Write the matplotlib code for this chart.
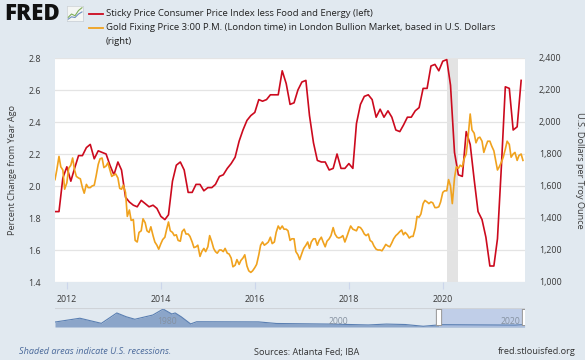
import matplotlib
matplotlib.use("Agg")
import matplotlib.pyplot as plt
import matplotlib.dates as mdates
from matplotlib.ticker import FuncFormatter
import pandas as pd

plt.rcParams['font.family'] = ['Open Sans', 'DejaVu Sans']

# ---- data ----
sticky_start = '2011-10-01'
sticky_cpi = [
    1.84, 1.84, 2.05, 2.12, 2.03, 2.11, 2.19, 2.19, 2.24, 2.26, 2.17, 2.22,
    2.21, 2.20, 2.13, 2.07, 2.15, 2.10, 1.93, 1.90, 1.88, 1.87, 1.91, 1.89,
    1.87, 1.88, 1.86, 1.81, 1.79, 1.82, 2.03, 2.13, 2.15, 2.10, 1.96, 1.96,
    2.01, 2.01, 1.97, 1.99, 1.99, 2.01, 2.06, 2.07, 2.11, 2.14, 2.18, 2.28,
    2.35, 2.41, 2.44, 2.46, 2.54, 2.53, 2.54, 2.57, 2.57, 2.57, 2.72, 2.64,
    2.51, 2.52, 2.60, 2.65, 2.66, 2.44, 2.27, 2.16, 2.15, 2.15, 2.10, 2.11,
    2.20, 2.11, 2.11, 2.14, 2.11, 2.39, 2.51, 2.56, 2.57, 2.54, 2.43, 2.48,
    2.43, 2.47, 2.43, 2.35, 2.34, 2.38, 2.43, 2.43, 2.47, 2.49, 2.61, 2.61,
    2.75, 2.76, 2.72, 2.78, 2.79, 2.63, 2.21, 2.07, 2.06, 2.34, 2.26, 2.04,
    1.84, 1.79, 1.68, 1.50, 1.50, 1.67, 2.13, 2.62, 2.61, 2.35, 2.37, 2.66,
]

# gold fixing price, two readings per month (1st / 15th)
gold_start = '2011-10-01'
gold = [
    1640, 1700, 1785, 1720, 1700, 1580,
    1620, 1710, 1730, 1775, 1700, 1660, 1650, 1645, 1590, 1555, 1610, 1590,
    1590, 1600, 1605, 1660, 1735, 1770, 1775, 1715, 1725, 1745, 1700, 1660,
    1670, 1675, 1650, 1585, 1580, 1605, 1560, 1410, 1450, 1385, 1390, 1260,
    1250, 1310, 1320, 1395, 1370, 1320, 1310, 1345, 1290, 1250, 1230, 1205,
    1240, 1265, 1280, 1330, 1375, 1320, 1310, 1290, 1295, 1260, 1255, 1315,
    1330, 1300, 1300, 1285, 1250, 1215, 1220, 1230, 1160, 1190, 1210, 1190,
    1220, 1290, 1250, 1210, 1190, 1180, 1200, 1200, 1190, 1210, 1180, 1175,
    1150, 1095, 1105, 1140, 1110, 1135, 1150, 1170, 1100, 1070, 1060, 1070,
    1090, 1110, 1170, 1230, 1250, 1230, 1240, 1250, 1280, 1240, 1250, 1310,
    1350, 1330, 1350, 1330, 1330, 1320, 1260, 1270, 1270, 1190, 1170, 1140,
    1180, 1210, 1230, 1250, 1210, 1250, 1270, 1270, 1230, 1260, 1280, 1250,
    1220, 1255, 1270, 1290, 1340, 1300, 1280, 1275, 1280, 1290, 1250, 1280,
    1320, 1350, 1330, 1325, 1320, 1345, 1340, 1325, 1300, 1290, 1300, 1260,
    1250, 1225, 1205, 1200, 1200, 1195, 1215, 1235, 1225, 1220, 1245, 1270,
    1290, 1300, 1315, 1325, 1295, 1310, 1295, 1275, 1285, 1285, 1335, 1410,
    1405, 1425, 1490, 1510, 1500, 1490, 1500, 1495, 1465, 1465, 1470, 1500,
    1560, 1570, 1570, 1640, 1600, 1490, 1650, 1720, 1710, 1730, 1720, 1770,
    1800, 1900, 2050, 1950, 1930, 1870, 1900, 1905, 1880, 1810, 1850, 1880,
    1880, 1850, 1820, 1760, 1700, 1720, 1750, 1780, 1830, 1880, 1860, 1780,
    1800, 1810, 1760, 1790, 1800, 1760,
]

recession = ('2020-02-01', '2020-04-30')
x_range = ('2011-10-01', '2021-10-01')

left_ticks = [1.4, 1.6, 1.8, 2.0, 2.2, 2.4, 2.6, 2.8]
right_ticks = [1000, 1200, 1400, 1600, 1800, 2000, 2200, 2400]
year_ticks = [2012, 2014, 2016, 2018, 2020]

# navigator (long history overview)
nav_years = [1967.0, 1969.9, 1972.4, 1974.2, 1975.3, 1976.3, 1978.4, 1979.6,
             1980.6, 1981.0, 1981.7, 1982.8, 1983.5, 1990.7, 1992.8, 1999.2,
             2003.5, 2005.6, 2007.8, 2009.9, 2012.0, 2020.6, 2021.7]
nav_vals = [3.4, 6.0, 2.5, 9.6, 7.0, 5.3, 8.2, 12.3,
            8.9, 9.6, 7.0, 2.1, 3.6, 3.5, 2.4, 2.0,
            1.4, 2.0, 1.7, 0.5, 1.6, 1.3, 1.7]
nav_labels = [1980, 2000, 2020]

red = '#cc0a1e'
orange = '#f0a21e'
bg = '#e1e9f0'
txt = '#3a3a3a'

sticky_dates = pd.date_range(sticky_start, periods=len(sticky_cpi), freq='MS')
gold_dates = pd.date_range(gold_start, periods=len(gold), freq='SMS')

fig = plt.figure(figsize=(5.85, 3.6), dpi=100, facecolor=bg)
W, H = 585.0, 360.0
ax = fig.add_axes([55 / W, 1 - 282 / H, 470 / W, 224 / H])
ax.set_facecolor('white')
ax2 = ax.twinx()

ax.axvspan(pd.Timestamp(recession[0]), pd.Timestamp(recession[1]),
           color='#e3e3e3', lw=0, zorder=0)
ax.plot(sticky_dates, sticky_cpi, color=red, lw=1.2, zorder=3)
ax2.plot(gold_dates, gold, color=orange, lw=1.2, zorder=3)

ax.set_xlim(pd.Timestamp(x_range[0]), pd.Timestamp(x_range[1]))
ax.set_ylim(1.4, 2.8)
ax2.set_ylim(1000, 2400)
ax.set_yticks(left_ticks)
ax.yaxis.set_major_formatter(FuncFormatter(lambda v, p: '%.1f' % v))
ax2.set_yticks(right_ticks)
ax2.yaxis.set_major_formatter(FuncFormatter(lambda v, p: '{:,.0f}'.format(v)))
ax.set_xticks([pd.Timestamp('%d-01-01' % y) for y in year_ticks])
ax.xaxis.set_major_formatter(mdates.DateFormatter('%Y'))

ax.grid(axis='y', color='#e4e4e4', lw=0.9)
ax.set_axisbelow(True)
for a in (ax, ax2):
    for s in a.spines.values():
        s.set_visible(False)
ax.tick_params(axis='y', length=0, labelsize=6.4, labelcolor=txt, pad=10)
ax2.tick_params(axis='y', length=0, labelsize=6.4, labelcolor=txt, pad=10)
ax.tick_params(axis='x', length=5, color='#ccd6eb', labelsize=6.4,
               labelcolor=txt, pad=4)

ax.set_ylabel('Percent Change from Year Ago', fontsize=6.6, color=txt, labelpad=8)
ax2.set_ylabel('U.S. Dollars per Troy Ounce', fontsize=6.6, color=txt,
               rotation=270, labelpad=16)

# header: logo + legend
fig.text(4 / W, 1 - 14.5 / H, 'FRED', fontsize=16, fontweight='heavy',
         color='#111111', va='center', ha='left')
icon = fig.add_axes([67 / W, 1 - 21 / H, 16 / W, 15 / H])
icon.set_facecolor('#f4f6f4')
icon.plot([0, 1, 2, 3, 4], [1, 2, 1.5, 3, 3.8], color='#7fae5a', lw=0.8)
icon.plot([0, 1, 2, 3, 4], [0.5, 1.2, 1.0, 2.0, 2.6], color='#6f8fbf', lw=0.8)
icon.set_xlim(-0.3, 4.3)
icon.set_ylim(0, 4.3)
icon.set_xticks([])
icon.set_yticks([])
for s in icon.spines.values():
    s.set_color('#c9cfd4')
    s.set_linewidth(0.5)

fig.add_artist(plt.Line2D([89 / W, 103 / W], [1 - 13.5 / H, 1 - 13.5 / H],
                          color=red, lw=1.3))
fig.add_artist(plt.Line2D([89 / W, 103 / W], [1 - 27.5 / H, 1 - 27.5 / H],
                          color=orange, lw=1.3))
fig.text(106 / W, 1 - 13.5 / H,
         'Sticky Price Consumer Price Index less Food and Energy (left)',
         fontsize=6.8, color='#222222', va='center')
fig.text(106 / W, 1 - 27.5 / H,
         'Gold Fixing Price 3:00 P.M. (London time) in London Bullion Market, based in U.S. Dollars',
         fontsize=6.8, color='#222222', va='center')
fig.text(106 / W, 1 - 41 / H, '(right)', fontsize=6.8, color='#222222', va='center')

# navigator
nav = fig.add_axes([55 / W, 1 - 327 / H, 470 / W, 19 / H])
nav.set_facecolor('none')
nav.fill_between(nav_years, nav_vals, 0, color='#8ba5c9', lw=0)
nav.plot(nav_years, nav_vals, color='#5a7fb2', lw=0.8)
sel0 = 2011.75
sel1 = 2021.75
nav.axvspan(sel0, sel1, color='#b5c6e6', alpha=0.75, lw=0)
nav.set_xlim(1967.0, 2021.75)
nav.set_ylim(0, 13)
nav.axhline(13, color='#cfd3d8', lw=0.8)
for yr in nav_labels:
    nav.text(yr, 4.1, str(yr), fontsize=6.2, color='#8591a0', ha='center',
             va='center', zorder=5)
for xh in (sel0, sel1):
    nav.plot([xh, xh], [1.0, 12.0], color='#999999', lw=4.5, solid_capstyle='butt',
             zorder=6)
    nav.plot([xh, xh], [1.5, 11.5], color='white', lw=3, solid_capstyle='butt',
             zorder=7)
nav.set_xticks([])
nav.set_yticks([])
for s in nav.spines.values():
    s.set_visible(False)

# footer
fig.text(19 / W, 1 - 352 / H, 'Shaded areas indicate U.S. recessions.',
         fontsize=6.6, style='italic', color='#4b6a9b', va='center')
fig.text(254 / W, 1 - 352 / H, 'Sources: Atlanta Fed; IBA',
         fontsize=6.6, color='#333333', va='center')
fig.text(576 / W, 1 - 352 / H, 'fred.stlouisfed.org',
         fontsize=6.6, color='#333333', va='center', ha='right')

fig.savefig('out.png', dpi=100, facecolor=bg)
